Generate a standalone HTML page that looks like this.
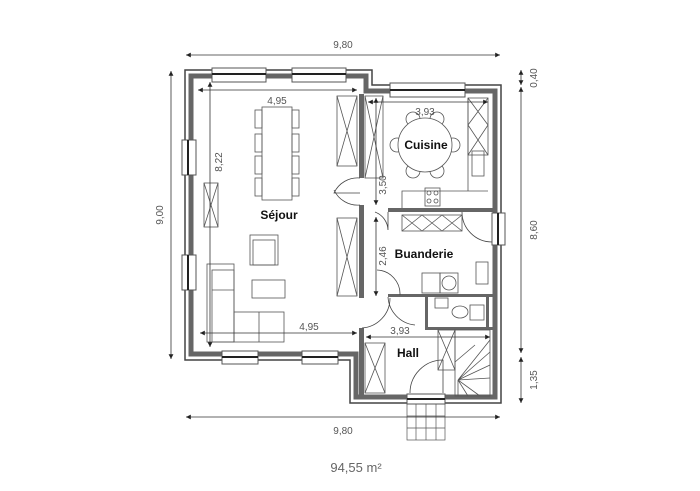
<!DOCTYPE html>
<html><head><meta charset="utf-8"><style>
html,body{margin:0;padding:0;background:#fff;}
svg{display:block;font-family:"Liberation Sans",sans-serif;}
</style></head><body>
<svg width="700" height="491" viewBox="0 0 700 491" xmlns="http://www.w3.org/2000/svg">
<defs>
<marker id="a" markerWidth="6" markerHeight="6" refX="6" refY="3" orient="auto-start-reverse"><path d="M0,0L6,3L0,6z" fill="#222"/></marker>
</defs>
<path d="M185,70 H372 V85 H501 V403 H350 V360 H185 Z" fill="none" stroke="#444" stroke-width="1.5"/>
<path d="M191,76 H366 V91 H495 V397 H356 V354 H191 Z" fill="none" stroke="#666" stroke-width="5"/>
<g fill="#fff" stroke="#555" stroke-width="1">
<rect x="212" y="68" width="54" height="14"/><rect x="292" y="68" width="54" height="14"/>
<rect x="390" y="83" width="75" height="14"/>
<rect x="182" y="140" width="14" height="35"/><rect x="182" y="255" width="14" height="35"/>
<rect x="222" y="351" width="36" height="13"/><rect x="302" y="351" width="36" height="13"/>
<rect x="492" y="213" width="13" height="32"/>
<rect x="407" y="394" width="38" height="10"/>
</g>
<g stroke="#222" stroke-width="2">
<line x1="212" y1="74" x2="266" y2="74"/><line x1="292" y1="74" x2="346" y2="74"/><line x1="390" y1="90" x2="465" y2="90"/>
<line x1="188" y1="140" x2="188" y2="175"/><line x1="188" y1="255" x2="188" y2="290"/>
<line x1="222" y1="357" x2="258" y2="357"/><line x1="302" y1="357" x2="338" y2="357"/>
<line x1="498" y1="213" x2="498" y2="245"/><line x1="407" y1="399" x2="445" y2="399"/>
</g>
<g fill="#666">
<rect x="359" y="94" width="5" height="84"/>
<rect x="359" y="205" width="5" height="93"/>
<rect x="359" y="328" width="5" height="70"/>
<rect x="388" y="208" width="105" height="4"/>
<rect x="388" y="294" width="105" height="3"/>
<rect x="425" y="296" width="3" height="32"/>
<rect x="425" y="327" width="68" height="3"/>
<rect x="486" y="296" width="3" height="32"/>
</g>
<g fill="none" stroke="#444" stroke-width="0.8">
<path d="M360,178 A26,26 0 0 0 334,193 L360,193"/>
<path d="M360,205 A26,26 0 0 1 334,190"/>
<path d="M375,212 A20,20 0 0 1 388,230 L388,212"/>
<path d="M377,270 A24,24 0 0 1 400,295"/>
<path d="M388,297 A30,30 0 0 0 415,325"/>
<path d="M362,328 A30,30 0 0 0 390,298"/>
<path d="M410,393 A33,33 0 0 1 443,360 L443,393"/>
<path d="M462,212 A30,30 0 0 0 492,242"/>
</g>
<g stroke="#555" stroke-width="0.7" fill="none">
<rect x="407" y="404" width="38" height="36"/>
<line x1="416" y1="404" x2="416" y2="440"/><line x1="426" y1="404" x2="426" y2="440"/><line x1="436" y1="404" x2="436" y2="440"/>
<line x1="407" y1="416" x2="445" y2="416"/><line x1="407" y1="428" x2="445" y2="428"/>
</g>
<g fill="none" stroke="#555" stroke-width="0.8">
<rect x="262" y="107" width="30" height="93"/>
<rect x="255" y="110" width="7" height="18"/><rect x="255" y="134" width="7" height="18"/><rect x="255" y="156" width="7" height="18"/><rect x="255" y="178" width="7" height="18"/>
<rect x="292" y="110" width="7" height="18"/><rect x="292" y="134" width="7" height="18"/><rect x="292" y="156" width="7" height="18"/><rect x="292" y="178" width="7" height="18"/>
<rect x="250" y="235" width="28" height="30"/><rect x="253" y="240" width="22" height="25"/>
<rect x="252" y="280" width="33" height="18"/>
<rect x="207" y="264" width="27" height="78"/><rect x="212" y="270" width="22" height="72"/>
<rect x="234" y="312" width="50" height="30"/><line x1="259" y1="312" x2="259" y2="342"/><line x1="212" y1="290" x2="234" y2="290"/>
<rect x="337" y="96" width="20" height="70"/><path d="M337,96 L357,166 M357,96 L337,166"/>
<rect x="365" y="96" width="18" height="82"/><path d="M365,96 L383,178 M383,96 L365,178"/>
<rect x="204" y="183" width="14" height="44"/><path d="M204,183 L218,227 M218,183 L204,227"/>
<rect x="337" y="218" width="20" height="78"/><path d="M337,218 L357,296 M357,218 L337,296"/>
<rect x="365" y="343" width="20" height="50"/><path d="M365,343 L385,393 M385,343 L365,393"/>
<circle cx="413" cy="119" r="7"/><circle cx="437" cy="119" r="7"/><circle cx="413" cy="171" r="7"/><circle cx="437" cy="171" r="7"/><circle cx="397" cy="145" r="7"/><circle cx="453" cy="145" r="7"/>
<circle cx="425" cy="145" r="27" fill="#fff"/>
<path d="M468,98 V191 H402 V208 M468,191 H488"/>
<rect x="468" y="98" width="20" height="57"/><path d="M468,98 L488,125 M488,98 L468,125 M468,125 L488,155 M488,125 L468,155"/>
<rect x="472" y="151" width="12" height="25"/>
<rect x="425" y="188" width="15" height="18"/><circle cx="429" cy="193" r="2"/><circle cx="436" cy="193" r="2"/><circle cx="429" cy="201" r="2"/><circle cx="436" cy="201" r="2"/>
<rect x="402" y="215" width="60" height="16"/><path d="M402,215 L422,231 M422,215 L402,231 M422,215 L442,231 M442,215 L422,231 M442,215 L462,231 M462,215 L442,231"/>
<rect x="422" y="273" width="18" height="20"/><rect x="440" y="273" width="18" height="20"/><circle cx="449" cy="283" r="7"/>
<rect x="476" y="262" width="12" height="22"/>
<rect x="435" y="298" width="13" height="10"/>
<ellipse cx="460" cy="312" rx="8" ry="6"/><rect x="470" y="305" width="14" height="15"/>
<rect x="438" y="330" width="17" height="40"/><path d="M438,330 L455,370 M455,330 L438,370"/>
<rect x="455" y="330" width="35" height="66"/>
<path d="M458,380 L490,340 M458,380 L490,352 M458,380 L490,365 M458,380 L490,378 M458,380 L480,396 M458,380 L468,396 M458,380 L458,396 M455,362 L475,345"/>
</g>
<g stroke="#333" stroke-width="0.8" fill="none">
<line x1="186" y1="55" x2="500" y2="55" marker-start="url(#a)" marker-end="url(#a)"/>
<line x1="186" y1="417" x2="500" y2="417" marker-start="url(#a)" marker-end="url(#a)"/>
<line x1="171" y1="71" x2="171" y2="359" marker-start="url(#a)" marker-end="url(#a)"/>
<line x1="521" y1="70" x2="521" y2="85" marker-start="url(#a)" marker-end="url(#a)"/>
<line x1="521" y1="87" x2="521" y2="353" marker-start="url(#a)" marker-end="url(#a)"/>
<line x1="521" y1="357" x2="521" y2="403" marker-start="url(#a)" marker-end="url(#a)"/>
<line x1="198" y1="90" x2="357" y2="90" marker-start="url(#a)" marker-end="url(#a)"/>
<line x1="210" y1="82" x2="210" y2="347" marker-start="url(#a)" marker-end="url(#a)"/>
<line x1="368" y1="102" x2="488" y2="102" marker-start="url(#a)" marker-end="url(#a)"/>
<line x1="376" y1="98" x2="376" y2="205" marker-start="url(#a)" marker-end="url(#a)"/>
<line x1="376" y1="217" x2="376" y2="296" marker-start="url(#a)" marker-end="url(#a)"/>
<line x1="200" y1="333" x2="357" y2="333" marker-start="url(#a)" marker-end="url(#a)"/>
<line x1="366" y1="337" x2="490" y2="337" marker-start="url(#a)" marker-end="url(#a)"/>
</g>
<g fill="#555" font-size="10" text-anchor="middle">
<text x="343" y="48">9,80</text>
<text x="343" y="434">9,80</text>
<text x="277" y="104">4,95</text>
<text x="309" y="330">4,95</text>
<text x="425" y="115">3,93</text>
<text x="400" y="334">3,93</text>
<text transform="translate(163,215) rotate(-90)">9,00</text>
<text transform="translate(222,162) rotate(-90)">8,22</text>
<text transform="translate(386,185) rotate(-90)">3,50</text>
<text transform="translate(386,256) rotate(-90)">2,46</text>
<text transform="translate(537,230) rotate(-90)">8,60</text>
<text transform="translate(537,78) rotate(-90)">0,40</text>
<text transform="translate(537,380) rotate(-90)">1,35</text>
</g>
<g fill="#111" font-size="12" font-weight="bold" text-anchor="middle">
<text x="279" y="219">Séjour</text>
<text x="426" y="149">Cuisine</text>
<text x="424" y="258">Buanderie</text>
<text x="408" y="357">Hall</text>
</g>
<text x="356" y="472" font-size="13" fill="#666" text-anchor="middle">94,55 m²</text>
</svg>
</body></html>
